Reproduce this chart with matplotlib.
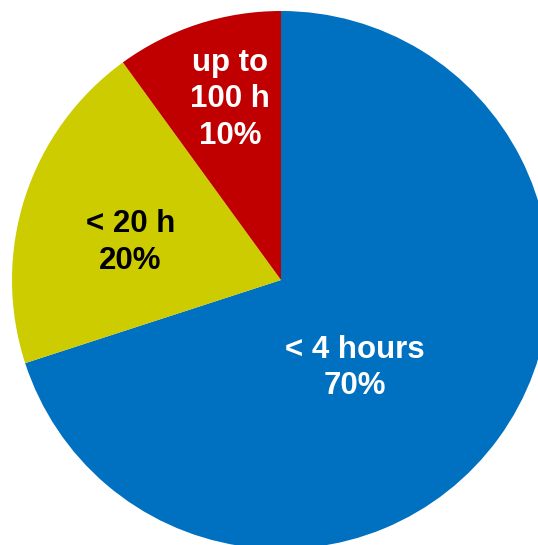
import matplotlib
matplotlib.use('Agg')
import matplotlib.pyplot as plt

plt.rcParams['font.family'] = ['Liberation Sans', 'DejaVu Sans']

# data
labels = ['< 4 hours', '< 20 h', 'up to\n100 h']
shares = [70, 20, 10]
colors = ['#0070C0', '#CCCC00', '#C00000']
text_colors = ['white', 'black', 'white']
# label anchor points (in pie radius units)
label_pos = [(0.275, -0.327), (-0.56, 0.139), (-0.19, 0.672)]

W, H = 538, 545
fig = plt.figure(figsize=(W / 100, H / 100), dpi=100)
ax = fig.add_axes([0, 0, 1, 1])

cx, cy, r = 281, 280, 269
ax.pie(shares, colors=colors, startangle=90, counterclock=False,
       radius=1.0, wedgeprops={'linewidth': 0})

for lab, val, tc, (x, y) in zip(labels, shares, text_colors, label_pos):
    ax.text(x, y, f"{lab}\n{val}%", ha='center', va='center', color=tc,
            fontsize=22.5, fontweight='bold', linespacing=1.28)

ax.set_aspect('auto')
ax.set_xlim(-cx / r, (W - cx) / r)
ax.set_ylim(-(H - cy) / r, cy / r)
ax.axis('off')

fig.savefig('out.png', dpi=100)
